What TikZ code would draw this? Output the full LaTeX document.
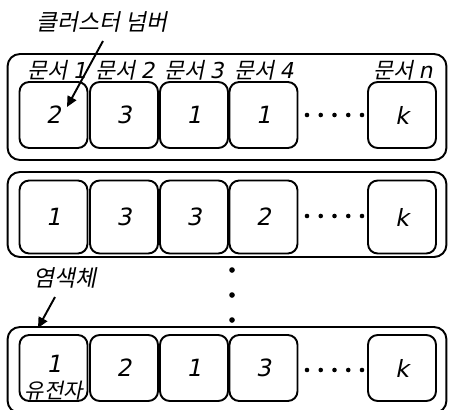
\documentclass[tikz,border=0pt]{standalone}
\usepackage{fontspec}
\usetikzlibrary{arrows.meta}
\newfontfamily\kr[FakeSlant=0.2]{Noto Sans CJK KR}
\newfontfamily\lat[FakeSlant=0.2]{DejaVu Sans}
\begin{document}
\begin{tikzpicture}[x=0.02cm,y=-0.02cm,
  outerbox/.style={draw,line width=1.1pt,rounded corners=7pt,inner sep=0pt,minimum width=439*0.569pt},
  gene/.style={draw,line width=1.1pt,rounded corners=5.5pt,minimum width=68*0.569pt,inner sep=0pt,font=\lat\fontsize{13.5}{15}\selectfont},
  lbl/.style={inner sep=0pt,font=\kr\fontsize{12.5}{14}\selectfont},
  hdot/.style={circle,fill,inner sep=0pt,minimum size=2.6pt},
  vdot/.style={circle,fill,inner sep=0pt,minimum size=3.2pt},
  pointer/.style={line width=1.1pt,-{Triangle[length=6pt,width=5.5pt]}}]
\useasboundingbox (0,0) rectangle (449,409);
\fill[white] (0,0) rectangle (449,409);
% outer chromosome boxes
\node[outerbox,minimum height=106*0.569pt] (row1) at (227,107) {};
\node[outerbox,minimum height=85*0.569pt] (row2) at (227,214.5) {};
\node[outerbox,minimum height=86*0.569pt] (row3) at (227,370) {};
% row 1
\begin{scope}[gene/.append style={minimum height=66*0.569pt}]
\node[gene] (a1) at (53.5,115) {2};
\node[gene] (a2) at (124,115) {3};
\node[gene] (a3) at (194,115) {1};
\node[gene] (a4) at (263.5,115) {1};
\node[gene] (ak) at (402,115) {k};
\end{scope}
% row 2
\begin{scope}[gene/.append style={minimum height=73*0.569pt}]
\node[gene] (b1) at (53.5,217) {1};
\node[gene] (b2) at (124,217) {3};
\node[gene] (b3) at (194,217) {3};
\node[gene] (b4) at (263.5,217) {2};
\node[gene] (bk) at (402,217) {k};
\end{scope}
% row 3
\begin{scope}[gene/.append style={minimum height=66*0.569pt}]
\node[gene] (c1) at (53.5,368) {};
\node[gene] (c2) at (124,368) {2};
\node[gene] (c3) at (194,368) {1};
\node[gene] (c4) at (263.5,368) {3};
\node[gene] (ck) at (402,368) {k};
\end{scope}
\node[inner sep=0pt,font=\lat\fontsize{13.5}{15}\selectfont] (c1num) at (54,364) {1};
\node[lbl,font=\kr\fontsize{12}{13}\selectfont] (gene) at (54,391) {유전자};
% horizontal ellipsis dots
\foreach \r/\y in {1/115,2/216,3/370}{
  \foreach \i in {0,...,4}{
    \node[hdot] (h\r\i) at (307+13.75*\i,\y) {};
  }
}
% vertical dots
\node[vdot] (v1) at (232,270) {};
\node[vdot] (v2) at (232,295) {};
\node[vdot] (v3) at (232,320) {};
% document labels
\node[lbl] (d1) at (57,70) {문서~{\lat 1}};
\node[lbl] (d2) at (125,70) {문서~{\lat 2}};
\node[lbl] (d3) at (194,70) {문서~{\lat 3}};
\node[lbl] (d4) at (264,70) {문서~{\lat 4}};
\node[lbl] (dn) at (403,70) {문서~{\lat n}};
% annotations
\node[lbl,font=\kr\fontsize{13}{15}\selectfont] (cl) at (102,22) {클러스터 넘버};
\coordinate (clend) at (67,107);
\draw[pointer] (103,41) -- (clend);
\node[lbl,font=\kr\fontsize{13}{15}\selectfont] (chr) at (65,278) {염색체};
\coordinate (chrend) at (38,328);
\draw[pointer] (55,297) -- (chrend);
\end{tikzpicture}
\end{document}
